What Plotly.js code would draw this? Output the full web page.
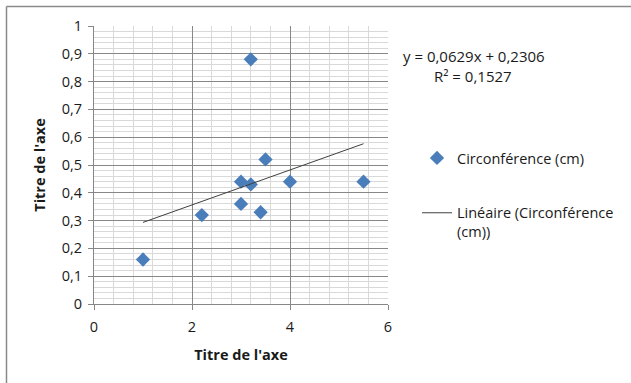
<!DOCTYPE html>
<html>
<head>
<meta charset="utf-8">
<script src="https://cdn.plot.ly/plotly-3.0.1.min.js"></script>
<style>
  html, body { margin: 0; padding: 0; background: #ffffff; }
  #chart { width: 631px; height: 383px; }
</style>
</head>
<body>
<div id="chart"></div>
<script>
// Circumference measurements (x) against the response value (y)
const xValues = [1.0, 2.2, 3.0, 3.0, 3.2, 3.2, 3.4, 3.5, 4.0, 5.5];
const yValues = [0.16, 0.32, 0.44, 0.36, 0.43, 0.88, 0.33, 0.52, 0.44, 0.44];

// Linear trendline coefficients as printed on the chart
const slope = 0.0629;
const intercept = 0.2306;
const rSquared = 0.1527;

const seriesName = 'Circonférence (cm)';
const trendName = 'Linéaire (Circonférence<br>(cm))';
const axisTitle = "Titre de l'axe";

// Trendline spans the data's x extent
const xMin = Math.min(...xValues);
const xMax = Math.max(...xValues);
const trendX = [xMin, xMax];
const trendY = trendX.map(x => slope * x + intercept);

const fmt = v => v.toFixed(4).replace('.', ',');
const equationText = 'y = ' + fmt(slope) + 'x + ' + fmt(intercept);
const r2Text = 'R² = ' + fmt(rSquared);

const W = 631, H = 383;
const M = { l: 94, r: 243, t: 26, b: 79 };
const plotW = W - M.l - M.r;
const plotH = H - M.t - M.b;
const px = p => (p - M.l) / plotW;          // pixel x -> paper x
const py = p => (H - M.b - p) / plotH;      // pixel y -> paper y

const FONT = '"Open Sans", Carlito, Calibri, "Liberation Sans", sans-serif';
const FS = 14.5;
const TEXT = '#1a1a1a';
const MAJOR = '#878787';
const MINOR = '#d9d9d9';

const traces = [
  {
    x: xValues, y: yValues,
    type: 'scatter', mode: 'markers',
    name: seriesName, legendgroup: 'a',
    marker: { symbol: 'diamond', size: 11, color: '#4a7ebb', line: { width: 0 } },
    cliponaxis: false
  },
  {
    x: trendX, y: trendY,
    type: 'scatter', mode: 'lines',
    name: trendName, legendgroup: 'b',
    line: { color: '#404040', width: 1 }
  }
];

const axisCommon = {
  showline: true, linecolor: MAJOR, linewidth: 1,
  showgrid: true, gridcolor: MAJOR, gridwidth: 1,
  zeroline: false,
  ticks: 'outside', ticklen: 5, tickcolor: MAJOR, tickwidth: 1,
  tickfont: { family: FONT, size: FS, color: TEXT },
  fixedrange: true
};

const layout = {
  width: W, height: H,
  margin: M,
  paper_bgcolor: '#ffffff', plot_bgcolor: '#ffffff',
  separators: ', ',
  font: { family: FONT, size: FS, color: TEXT },
  showlegend: true,
  xaxis: Object.assign({}, axisCommon, {
    range: [0, 6], tick0: 0, dtick: 2,
    minor: { dtick: 0.4, showgrid: true, gridcolor: MINOR, gridwidth: 1, ticks: '' },
    ticklabelstandoff: 5,
    title: { text: axisTitle, font: { family: FONT, size: FS, color: TEXT, weight: 'bold' }, standoff: 14 }
  }),
  yaxis: Object.assign({}, axisCommon, {
    range: [0, 1], tick0: 0, dtick: 0.1,
    minor: { dtick: 0.02, showgrid: true, gridcolor: MINOR, gridwidth: 1, ticks: '' },
    ticklabelstandoff: 3,
    title: { text: axisTitle, font: { family: FONT, size: FS, color: TEXT, weight: 'bold' }, standoff: 12 }
  }),
  legend: {
    x: px(417), y: py(142), xanchor: 'left', yanchor: 'top',
    bgcolor: 'rgba(0,0,0,0)', borderwidth: 0,
    font: { family: FONT, size: FS, color: TEXT },
    traceorder: 'grouped', tracegroupgap: 33, valign: 'top'
  },
  annotations: [
    { xref: 'paper', yref: 'paper', x: px(474), y: py(56), text: equationText,
      showarrow: false, xanchor: 'center', yanchor: 'middle',
      font: { family: FONT, size: 15, color: TEXT } },
    { xref: 'paper', yref: 'paper', x: px(473), y: py(76), text: r2Text,
      showarrow: false, xanchor: 'center', yanchor: 'middle',
      font: { family: FONT, size: 15, color: TEXT } }
  ],
  shapes: [
    // chart-area frame (top and left edges)
    { type: 'line', xref: 'paper', yref: 'paper', x0: px(6.5), x1: px(W), y0: py(6.5), y1: py(6.5),
      line: { color: '#8a8a8a', width: 1.5 } },
    { type: 'line', xref: 'paper', yref: 'paper', x0: px(6.5), x1: px(6.5), y0: py(6.5), y1: py(H),
      line: { color: '#8a8a8a', width: 1.5 } }
  ]
};

Plotly.newPlot('chart', traces, layout, { displayModeBar: false, staticPlot: true });
</script>
</body>
</html>
